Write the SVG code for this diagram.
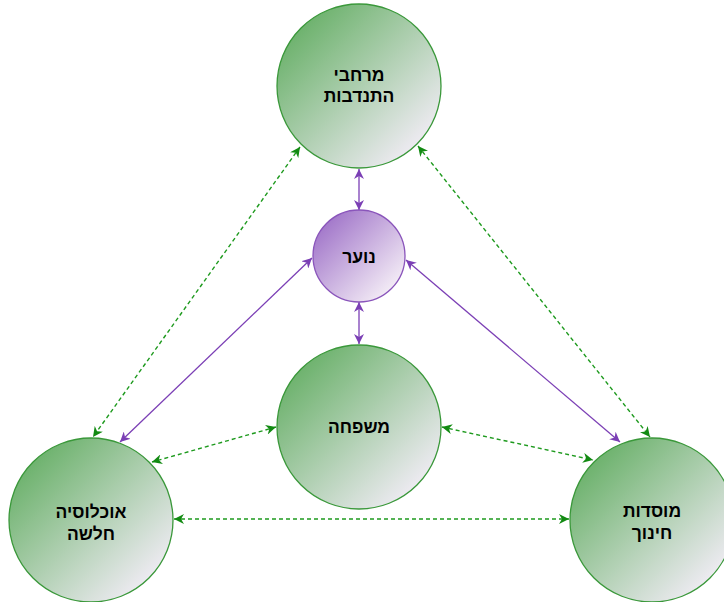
<svg xmlns="http://www.w3.org/2000/svg" width="724" height="602" viewBox="0 0 724 602">
  <style>
    .g { stroke: #3a983a; stroke-width: 1.3; fill: url(#gg); }
    .p { stroke: #8a55bb; stroke-width: 1.3; fill: url(#pg); }
    .t { font-family: "Liberation Sans", "DejaVu Sans", "Noto Sans", sans-serif; font-weight: bold; font-size: 17.5px; fill: #000; text-anchor: middle; direction: rtl; }
    .cg { stroke: #1e9a1e; stroke-width: 1.4; stroke-dasharray: 4 3; fill: none; marker-start: url(#ag); marker-end: url(#ag); }
    .cp { stroke: #7b3fb5; stroke-width: 1.3; fill: none; marker-start: url(#ap); marker-end: url(#ap); }
  </style>
  <defs>
    <linearGradient id="gg" x1="0.15" y1="0.15" x2="0.85" y2="0.85">
      <stop offset="0" stop-color="#6fb36f"/>
      <stop offset="1" stop-color="#eceaf0"/>
    </linearGradient>
    <linearGradient id="pg" x1="0.15" y1="0.15" x2="0.85" y2="0.85">
      <stop offset="0" stop-color="#a47acb"/>
      <stop offset="1" stop-color="#f2eaf5"/>
    </linearGradient>
    <marker id="ag" viewBox="0 0 10 10" refX="10" refY="5" markerWidth="10" markerHeight="10" markerUnits="userSpaceOnUse" orient="auto-start-reverse">
      <path d="M0,0 L10,5 L0,10 L3,5 Z" fill="#128a12"/>
    </marker>
    <marker id="ap" viewBox="0 0 10 10" refX="10" refY="5" markerWidth="10" markerHeight="10" markerUnits="userSpaceOnUse" orient="auto-start-reverse">
      <path d="M0,0 L10,5 L0,10 L3,5 Z" fill="#7b3fb5"/>
    </marker>
  </defs>

  <g id="connectors">
    <line class="cp" x1="359" y1="169" x2="359" y2="210"/>
    <line class="cp" x1="359" y1="302" x2="359" y2="344"/>
    <line class="cp" x1="312" y1="258" x2="120" y2="442"/>
    <line class="cp" x1="406" y1="260" x2="620" y2="442"/>
    <line class="cg" x1="300" y1="147" x2="93" y2="437"/>
    <line class="cg" x1="418" y1="146" x2="650" y2="437"/>
    <line class="cg" x1="276" y1="427" x2="152" y2="462"/>
    <line class="cg" x1="442" y1="427" x2="593" y2="460"/>
    <line class="cg" x1="174" y1="519" x2="569" y2="519"/>
  </g>

  <g id="volunteering">
    <circle class="g" cx="359" cy="86" r="82"/>
    <text class="t" x="359" y="81">מרחבי</text>
    <text class="t" x="359" y="102">התנדבות</text>
  </g>
  <g id="youth">
    <circle class="p" cx="359" cy="256" r="46"/>
    <text class="t" x="359" y="263">נוער</text>
  </g>
  <g id="family">
    <circle class="g" cx="359" cy="427" r="82"/>
    <text class="t" x="359" y="433">משפחה</text>
  </g>
  <g id="weak-population">
    <circle class="g" cx="91" cy="520" r="82"/>
    <text class="t" x="91" y="518">אוכלוסיה</text>
    <text class="t" x="91" y="540">חלשה</text>
  </g>
  <g id="education">
    <circle class="g" cx="652" cy="520" r="82"/>
    <text class="t" x="652" y="517">מוסדות</text>
    <text class="t" x="652" y="539">חינוך</text>
  </g>
</svg>
